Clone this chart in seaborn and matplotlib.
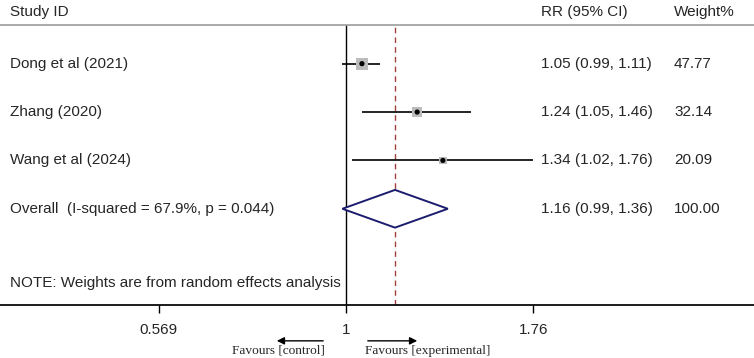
import numpy as np
import pandas as pd
import seaborn as sns
import matplotlib.pyplot as plt

# forest plot data
studies=["Dong et al (2021)","Zhang (2020)","Wang et al (2024)"]
rr=[1.05,1.24,1.34]
lo=[0.99,1.05,1.02]
hi=[1.11,1.46,1.76]
weights=[47.77,32.14,20.09]
overall=(1.16,0.99,1.36)
i2,pval=67.9,0.044
ticks=[0.569,1,1.76]

sns.set_theme(style="white")
plt.rcParams["font.family"]=["Liberation Sans","DejaVu Sans"]

q=pd.DataFrame({"study":studies,"rr":rr,"lo":lo,"hi":hi,"w":weights})
q["row"]=np.arange(len(q))
orow=len(q)

fg=plt.figure(figsize=(7.54,3.58),dpi=100)
ax=fg.add_axes([0,53/358,1,280/358])
ax.set_xscale("log")
ax.set_xlim(0.353,3.42)
ax.set_ylim(4.99,-0.8)

#CI lines
ax.hlines(q.row,q.lo,q.hi,color="black",lw=1.2,zorder=2)
#weight boxes + point
sns.scatterplot(data=q,x="rr",y="row",size="w",sizes=(30,75),marker="s",
    color="#bcbcbc",edgecolor="none",legend=False,ax=ax,zorder=3)
sns.scatterplot(data=q,x="rr",y="row",color="black",s=14,edgecolor="none",
    legend=False,ax=ax,zorder=4)

#pooled diamond
est,olo,ohi=overall
ax.fill([olo,est,ohi,est,olo],[orow,orow-0.39,orow,orow+0.39,orow],
    facecolor="white",edgecolor="#1c1c6e",lw=1.4,zorder=3)

ax.axvline(1,color="black",lw=1,zorder=1)
ax.axvline(est,color="#a0403c",lw=1,ls=(0,(4,3)),zorder=1)

#spines
for s in ("left","right"):
    ax.spines[s].set_visible(False)
ax.spines["top"].set_color("#a0a0a0")
ax.spines["bottom"].set_color("black")
ax.set_yticks([])
ax.set_xticks(ticks)
ax.set_xticklabels(["0.569","1","1.76"])
ax.minorticks_off()
ax.tick_params(axis="x",bottom=True,length=6,width=1,pad=7,labelsize=11,color="black")
ax.set_xlabel("")
ax.set_ylabel("")

tr=ax.get_yaxis_transform()
fs=11
xl,xr,xw=10/754,541/754,674/754
ax.text(xl,-1.07,"Study ID",transform=tr,fontsize=fs,va="center")
ax.text(xr,-1.07,"RR (95% CI)",transform=tr,fontsize=fs,va="center")
ax.text(xw,-1.07,"Weight%",transform=tr,fontsize=fs,va="center")
for _,r in q.iterrows():
    ax.text(xl,r.row,r.study,transform=tr,fontsize=fs,va="center")
    ax.text(xr,r.row,f"{r.rr:.2f} ({r.lo:.2f}, {r.hi:.2f})",transform=tr,fontsize=fs,va="center")
    ax.text(xw,r.row,f"{r.w:.2f}",transform=tr,fontsize=fs,va="center")
ax.text(xl,orow,f"Overall  (I-squared = {i2}%, p = {pval})",transform=tr,fontsize=fs,va="center")
ax.text(xr,orow,f"{est:.2f} ({olo:.2f}, {ohi:.2f})",transform=tr,fontsize=fs,va="center")
ax.text(xw,orow,f"{sum(weights):.2f}",transform=tr,fontsize=fs,va="center")
ax.text(xl,4.53,"NOTE: Weights are from random effects analysis",transform=tr,fontsize=fs,va="center")

#favours arrows
ap=dict(arrowstyle="-|>",color="black",lw=1,mutation_scale=11)
ax.annotate("",xy=(274/754,-0.128),xytext=(326/754,-0.128),xycoords="axes fraction",arrowprops=ap)
ax.annotate("",xy=(420/754,-0.128),xytext=(365/754,-0.128),xycoords="axes fraction",arrowprops=ap)
ax.text(325/754,-0.163,"Favours [control]",transform=ax.transAxes,ha="right",va="center",
    fontsize=9.6,family=["Liberation Serif","DejaVu Serif"])
ax.text(365/754,-0.163,"Favours [experimental]",transform=ax.transAxes,ha="left",va="center",
    fontsize=9.6,family=["Liberation Serif","DejaVu Serif"])

fg.savefig("out.png",dpi=100)
